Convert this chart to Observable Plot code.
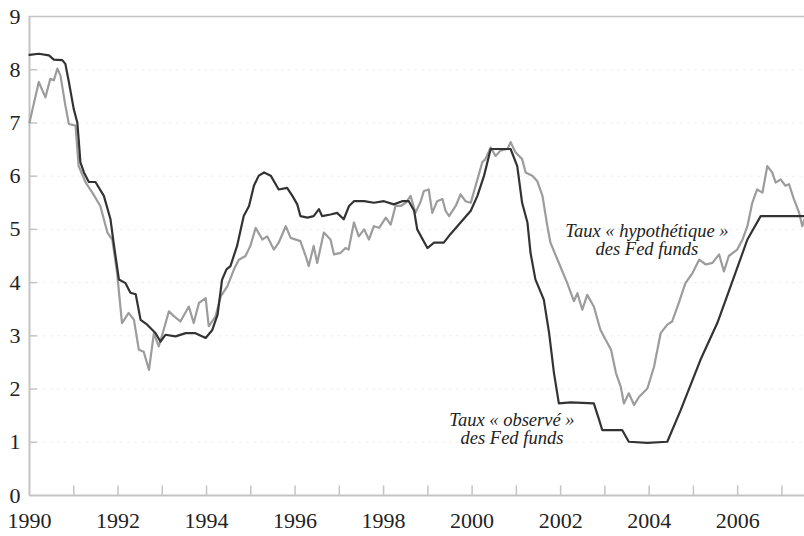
<!DOCTYPE html>
<html>
<head>
<meta charset="utf-8">
<script src="https://cdn.jsdelivr.net/npm/d3@7"></script>
<script src="https://cdn.jsdelivr.net/npm/@observablehq/plot@0.6"></script>
<style>
  html, body { margin: 0; padding: 0; background: #fff; }
  #chart svg { display: block; }
</style>
</head>
<body>
<div id="chart"></div>
<script>
// Taux « observé » des Fed funds (dark line)
const obsYears = [1990.00,1990.21,1990.44,1990.55,1990.74,1990.81,1990.89,1991.00,1991.08,1991.11,1991.15,1991.23,1991.34,1991.49,1991.68,1991.83,1991.90,1992.02,1992.17,1992.28,1992.40,1992.51,1992.66,1992.85,1992.96,1993.07,1993.30,1993.53,1993.75,1993.98,1994.13,1994.25,1994.35,1994.45,1994.54,1994.69,1994.84,1994.96,1995.07,1995.18,1995.30,1995.45,1995.63,1995.82,1995.94,1996.05,1996.12,1996.28,1996.42,1996.54,1996.61,1996.80,1996.95,1997.10,1997.22,1997.33,1997.56,1997.78,1998.01,1998.23,1998.42,1998.57,1998.69,1998.76,1998.99,1999.14,1999.36,1999.51,1999.74,1999.97,2000.12,2000.27,2000.42,2000.64,2000.87,2001.02,2001.13,2001.25,2001.32,2001.43,2001.62,2001.74,2001.85,2001.96,2002.23,2002.75,2002.87,2002.94,2003.39,2003.54,2003.96,2004.41,2004.71,2005.16,2005.54,2005.84,2006.22,2006.52,2007.51];
const obsRates = [8.28,8.30,8.27,8.19,8.18,8.11,7.77,7.26,7.01,6.70,6.26,6.07,5.89,5.89,5.63,5.19,4.75,4.06,3.99,3.81,3.78,3.30,3.21,3.05,2.89,3.02,2.99,3.05,3.05,2.96,3.11,3.40,4.05,4.25,4.31,4.69,5.25,5.44,5.82,6.01,6.07,6.01,5.75,5.78,5.63,5.47,5.25,5.22,5.25,5.38,5.25,5.28,5.31,5.19,5.44,5.53,5.53,5.50,5.53,5.47,5.53,5.53,5.35,5.00,4.65,4.75,4.75,4.91,5.13,5.35,5.63,6.01,6.51,6.51,6.51,6.19,5.50,5.13,4.56,4.06,3.68,3.05,2.30,1.73,1.75,1.73,1.42,1.23,1.23,1.01,0.99,1.01,1.60,2.55,3.24,3.93,4.81,5.25,5.25];

// Taux « hypothétique » des Fed funds (light line)
const hypYears = [1990.00,1990.21,1990.36,1990.47,1990.55,1990.63,1990.70,1990.81,1990.89,1991.04,1991.11,1991.27,1991.42,1991.60,1991.76,1991.87,1991.98,1992.09,1992.24,1992.36,1992.47,1992.58,1992.70,1992.81,1992.92,1993.03,1993.15,1993.26,1993.41,1993.60,1993.71,1993.83,1993.98,1994.05,1994.20,1994.32,1994.47,1994.62,1994.73,1994.88,1994.99,1995.11,1995.26,1995.37,1995.52,1995.63,1995.79,1995.90,1996.12,1996.24,1996.31,1996.42,1996.50,1996.65,1996.80,1996.88,1997.03,1997.14,1997.21,1997.33,1997.44,1997.56,1997.67,1997.78,1997.90,1998.05,1998.16,1998.27,1998.39,1998.50,1998.61,1998.72,1998.84,1998.91,1999.02,1999.10,1999.21,1999.33,1999.40,1999.48,1999.63,1999.74,1999.85,1999.97,2000.12,2000.23,2000.30,2000.42,2000.53,2000.64,2000.80,2000.87,2000.98,2001.13,2001.21,2001.36,2001.47,2001.59,2001.70,2001.77,2001.93,2002.15,2002.30,2002.38,2002.49,2002.60,2002.75,2002.90,2003.02,2003.14,2003.25,2003.36,2003.43,2003.54,2003.66,2003.77,2003.96,2004.11,2004.26,2004.41,2004.52,2004.67,2004.82,2004.98,2005.13,2005.28,2005.43,2005.58,2005.69,2005.80,2005.99,2006.11,2006.22,2006.33,2006.44,2006.56,2006.67,2006.78,2006.86,2006.97,2007.08,2007.16,2007.27,2007.39,2007.46,2007.51];
const hypRates = [7.01,7.77,7.48,7.83,7.80,8.02,7.89,7.33,6.98,6.95,6.19,5.88,5.69,5.44,4.94,4.81,4.18,3.24,3.43,3.30,2.74,2.70,2.36,3.05,2.80,3.11,3.46,3.37,3.27,3.55,3.24,3.62,3.71,3.18,3.36,3.74,3.93,4.25,4.43,4.50,4.69,5.03,4.81,4.87,4.62,4.75,5.06,4.84,4.78,4.50,4.31,4.69,4.37,4.94,4.81,4.53,4.56,4.65,4.62,5.13,4.87,5.00,4.81,5.06,5.03,5.22,5.09,5.44,5.44,5.50,5.63,5.31,5.53,5.72,5.75,5.31,5.53,5.57,5.35,5.25,5.44,5.66,5.53,5.50,5.94,6.26,6.32,6.54,6.38,6.48,6.51,6.64,6.45,6.32,6.07,6.01,5.91,5.63,5.06,4.75,4.43,3.99,3.65,3.80,3.49,3.77,3.55,3.11,2.92,2.74,2.30,2.04,1.73,1.92,1.70,1.85,2.01,2.42,3.05,3.21,3.27,3.62,3.99,4.18,4.43,4.34,4.37,4.53,4.21,4.50,4.62,4.81,5.06,5.50,5.75,5.69,6.19,6.07,5.88,5.94,5.82,5.85,5.57,5.31,5.06,5.19];

// Axis ticks
const yearTicks = d3.range(1990, 2008);          // tick every year
const yearLabels = d3.range(1990, 2007, 2);      // label every two years
const rateTicks = d3.range(0, 10);               // 0..9

// Annotations
const annotationText = ["Taux « hypothétique »\ndes Fed funds", "Taux « observé »\ndes Fed funds"];
const annotationYear = [2003.95, 2000.9];
const annotationRate = [4.51, 0.96];

const obs = obsYears.map((t, i) => ({t, v: obsRates[i]}));
const hyp = hypYears.map((t, i) => ({t, v: hypRates[i]}));
const notes = annotationText.map((text, i) => ({text, t: annotationYear[i], v: annotationRate[i]}));

const serif = "'Liberation Serif', 'Times New Roman', serif";
const axisGray = "#c4c4c4";

const chart = Plot.plot({
  width: 804,
  height: 536,
  marginLeft: 29,
  marginRight: 0,
  marginTop: 16,
  marginBottom: 41,
  style: {background: "#fff", fontFamily: serif},
  x: {domain: [1990, 2007.51], label: null},
  y: {domain: [0, 9], label: null},
  marks: [
    Plot.ruleY(rateTicks.slice(1, 9), {stroke: "#efefef", strokeWidth: 1, strokeDasharray: "3,4"}),
    Plot.ruleY([9], {stroke: axisGray, strokeWidth: 1.5}),
    Plot.ruleY([0], {stroke: axisGray, strokeWidth: 2}),
    Plot.ruleX([1990], {stroke: axisGray, strokeWidth: 2}),
    Plot.ruleX(yearTicks.slice(1), {x: d => d, y1: 0, y2: 0.18, stroke: axisGray, strokeWidth: 1.5}),
    Plot.ruleY(rateTicks.slice(1, 9), {y: d => d, x1: 1990, x2: 1990.18, stroke: axisGray, strokeWidth: 1.5}),
    Plot.axisX(yearLabels, {label: null, tickSize: 0, tickPadding: 17, fontSize: 22, fontFamily: serif, fill: "#222", tickFormat: d => String(d)}),
    Plot.axisY(rateTicks, {label: null, tickSize: 0, tickPadding: 9, fontSize: 22, fontFamily: serif, fill: "#222", tickFormat: d => String(d)}),
    Plot.line(hyp, {x: "t", y: "v", stroke: "#9c9c9c", strokeWidth: 2.2}),
    Plot.line(obs, {x: "t", y: "v", stroke: "#333333", strokeWidth: 2.2}),
    Plot.text(notes, {x: "t", y: "v", text: "text", lineAnchor: "bottom", lineHeight: 1, fontSize: 18.5, fontStyle: "italic", fontFamily: serif, fill: "#222", textAnchor: "middle", style: {letterSpacing: "0.8px"}})
  ]
});
document.getElementById("chart").appendChild(chart);
</script>
</body>
</html>
